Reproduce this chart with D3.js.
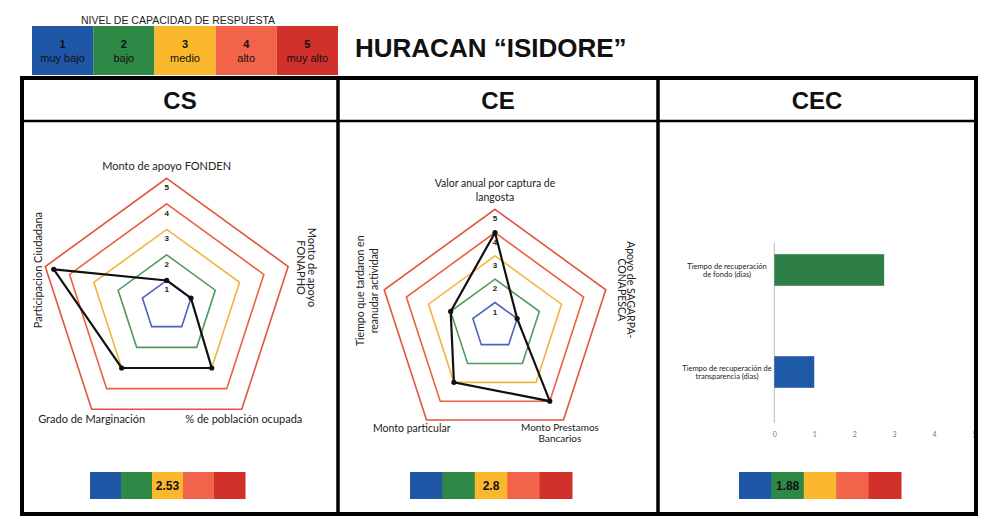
<!DOCTYPE html>
<html>
<head>
<meta charset="utf-8">
<script src="https://cdn.jsdelivr.net/npm/d3@7"></script>
<style>
  body { margin: 0; background: #fff; }
  svg { display: block; }
</style>
</head>
<body>
<div id="chart"></div>
<script>
// Nivel de capacidad de respuesta - Huracan Isidore

// data
var levels = [1, 2, 3, 4, 5];
var levelNames = ["muy bajo", "bajo", "medio", "alto", "muy alto"];
var panelNames = ["CS", "CE", "CEC"];
var panelScores = [2.53, 2.8, 1.88];

var csAxes = ["Monto de apoyo FONDEN", "Monto de apoyo FONAPHO", "% de población ocupada",
  "Grado de Marginación", "Participacion Ciudadana"];
var csValues = [1, 1, 3, 3, 4.65];

var ceAxes = ["Valor anual por captura de langosta", "Apoyo de SAGARPA-CONAPESCA",
  "Monto Prestamos Bancarios", "Monto particular", "Tiempo que tardaron en reanudar actividad"];
var ceValues = [4, 1, 4, 3, 2];

var cecCategories = ["Tiempo de recuperación de fondo (dias)", "Tiempo de recuperación de transparencia (dias)"];
var cecValues = [2.75, 1];
var cecTicks = [0, 1, 2, 3, 4, 5];

// colours
var levelColors = ["#1f56a6", "#2e8947", "#fbb82d", "#f26449", "#d2302a"];
var ringColors = ["#4a64bf", "#4f9a5c", "#f3b43a", "#ee5f42", "#e2543c"];
var cecColors = ["#2e7f47", "#1f5aa6"];

var svgWidth = 988, svgHeight = 523;
var svg = d3.select("#chart").append("svg")
  .attr("width", svgWidth)
  .attr("height", svgHeight);

var sans = "'Liberation Sans', Arial, sans-serif";
var narrow = "'Liberation Sans Narrow', 'Liberation Sans', Arial, sans-serif";
var body = "Lato, 'Open Sans', sans-serif";

// ---- legend at the top ----
var legX = d3.scaleBand().domain(levels).range([32, 338]);
svg.append("text")
  .attr("x", 178).attr("y", 24)
  .attr("text-anchor", "middle")
  .style("font-family", sans).style("font-size", "10.5px").style("fill", "#222")
  .text("NIVEL DE CAPACIDAD DE RESPUESTA");

var leg = svg.append("g").selectAll("g").data(levels).enter().append("g");
leg.append("rect")
  .attr("x", function(d) { return legX(d); })
  .attr("y", 26)
  .attr("width", legX.bandwidth())
  .attr("height", 49)
  .style("fill", function(d, i) { return levelColors[i]; });
leg.append("text")
  .attr("x", function(d) { return legX(d) + legX.bandwidth() / 2; })
  .attr("y", 48)
  .attr("text-anchor", "middle")
  .style("font-family", sans).style("font-size", "11px").style("font-weight", "bold").style("fill", "#111")
  .text(function(d) { return d; });
leg.append("text")
  .attr("x", function(d) { return legX(d) + legX.bandwidth() / 2; })
  .attr("y", 62)
  .attr("text-anchor", "middle")
  .style("font-family", sans).style("font-size", "11px").style("fill", "#111")
  .text(function(d, i) { return levelNames[i]; });

svg.append("text")
  .attr("x", 355).attr("y", 57)
  .style("font-family", sans).style("font-size", "26px").style("font-weight", "bold").style("fill", "#111")
  .text("HURACAN \u201cISIDORE\u201d");

// ---- table headers ----
var colEdges = [22, 338, 658, 976];
panelNames.forEach(function(name, i) {
  svg.append("text")
    .attr("x", (colEdges[i] + colEdges[i + 1]) / 2)
    .attr("y", 109)
    .attr("text-anchor", "middle")
    .style("font-family", narrow).style("font-size", "24px").style("font-weight", "bold").style("fill", "#111")
    .text(name);
});

// ---- radar charts ----
function drawRadar(cx, cy, R, axes, values, labelLayout) {
  var g = svg.append("g").attr("transform", "translate(" + cx + "," + cy + ")");
  var r = d3.scaleLinear().domain([0, 5]).range([0, R]);
  var ang = function(i) { return i * 2 * Math.PI / axes.length; };

  var ring = d3.lineRadial()
    .angle(function(d, i) { return ang(i); })
    .radius(function(d) { return r(d); })
    .curve(d3.curveLinearClosed);

  g.selectAll(".ring").data(levels).enter().append("path")
    .attr("class", "ring")
    .attr("d", function(lv) { return ring(axes.map(function() { return lv; })); })
    .style("fill", "none")
    .style("stroke", function(d, i) { return ringColors[i]; })
    .style("stroke-width", 1.6);

  // level numbers on the top axis
  g.selectAll(".lvl").data(levels).enter().append("text")
    .attr("x", 0)
    .attr("y", function(d) { return -r(d) + 12; })
    .attr("text-anchor", "middle")
    .style("font-family", sans).style("font-size", "8px").style("font-weight", "bold").style("fill", "#222")
    .text(function(d) { return d; });

  var px = function(d, i) { return r(d) * Math.sin(ang(i)); };
  var py = function(d, i) { return -r(d) * Math.cos(ang(i)); };

  g.append("path")
    .attr("d", ring(values))
    .style("fill", "none")
    .style("stroke", "#111")
    .style("stroke-width", 2.2);
  g.selectAll(".pt").data(values).enter().append("circle")
    .attr("cx", px).attr("cy", py).attr("r", 2.6)
    .style("fill", "#111");

  // axis labels
  axes.forEach(function(a, i) {
    var L = labelLayout[i];
    var vx = px(5, i), vy = py(5, i);
    var t = g.append("text")
      .attr("transform", "translate(" + (vx + L.dx) + "," + (vy + L.dy) + ") rotate(" + L.rot + ")")
      .attr("text-anchor", "middle")
      .style("font-family", body).style("font-size", L.size + "px").style("fill", "#222");
    L.lines.forEach(function(line, k) {
      t.append("tspan").attr("x", 0).attr("y", k * L.lh).text(line);
    });
  });
}

drawRadar(166.7, 306, 127.7, csAxes, csValues, [
  { lines: [csAxes[0]], dx: 0, dy: -8, rot: 0, size: 11, lh: 12 },
  { lines: ["Monto de apoyo", "FONAPHO"], dx: 20, dy: 1, rot: 90, size: 11, lh: 11.5 },
  { lines: [csAxes[2]], dx: 2, dy: 14, rot: 0, size: 11, lh: 12 },
  { lines: [csAxes[3]], dx: 0, dy: 14, rot: 0, size: 11, lh: 12 },
  { lines: [csAxes[4]], dx: -3, dy: 3.5, rot: -90, size: 11, lh: 12 }
]);

drawRadar(495, 325.8, 116.5, ceAxes, ceValues, [
  { lines: ["Valor anual por captura de", "langosta"], dx: 0, dy: -22, rot: 0, size: 10.5, lh: 14 },
  { lines: ["Apoyo de SAGARPA-", "CONAPESCA"], dx: 21.5, dy: 0, rot: 90, size: 10.5, lh: 9 },
  { lines: ["Monto Prestamos", "Bancarios"], dx: -3.5, dy: 10.5, rot: 0, size: 10, lh: 11 },
  { lines: [ceAxes[3]], dx: -14.8, dy: 11.8, rot: 0, size: 10.5, lh: 12 },
  { lines: ["Tiempo que tardaron en", "reanudar actividad"], dx: -20.5, dy: 1, rot: -90, size: 10.5, lh: 14 }
]);

// ---- CEC bar chart ----
var xBar = d3.scaleLinear().domain([0, 5]).range([774.3, 974]);
var yBar = d3.scaleBand().domain(cecCategories).range([219, 423])
  .paddingInner(0.69).paddingOuter(0.345);

svg.append("line")
  .attr("x1", xBar(0)).attr("x2", xBar(0))
  .attr("y1", 242).attr("y2", 423)
  .style("stroke", "#bbb").style("stroke-width", 1);

svg.selectAll(".bar").data(cecValues).enter().append("rect")
  .attr("x", xBar(0))
  .attr("y", function(d, i) { return yBar(cecCategories[i]); })
  .attr("width", function(d) { return xBar(d) - xBar(0); })
  .attr("height", yBar.bandwidth())
  .style("fill", function(d, i) { return cecColors[i]; });

var xAxis = svg.append("g")
  .attr("transform", "translate(0,432)")
  .call(d3.axisBottom(xBar).tickValues(cecTicks).tickFormat(d3.format("d")).tickSize(0).tickPadding(0));
xAxis.select(".domain").remove();
xAxis.selectAll("text")
  .style("font-family", body).style("font-size", "7px").style("fill", "#777");

var cecLabelLines = [["Tiempo de recuperación", "de fondo (dias)"], ["Tiempo de recuperación de", "transparencia (dias)"]];
cecCategories.forEach(function(c, i) {
  var t = svg.append("text")
    .attr("text-anchor", "middle")
    .style("font-family", body).style("font-size", "7.5px").style("fill", "#222");
  var yc = yBar(c) + yBar.bandwidth() / 2;
  cecLabelLines[i].forEach(function(line, k) {
    t.append("tspan").attr("x", 727).attr("y", yc + k * 8.5 - 1.5).text(line);
  });
});

// ---- score strips at the bottom ----
var stripRanges = [[90, 245], [410, 572], [739, 901]];
panelScores.forEach(function(score, p) {
  var sx = d3.scaleBand().domain(levels).range(stripRanges[p]);
  var g = svg.append("g");
  g.selectAll("rect").data(levels).enter().append("rect")
    .attr("x", function(d) { return sx(d); })
    .attr("y", 472)
    .attr("width", sx.bandwidth() + 0.5)
    .attr("height", 27)
    .style("fill", function(d, i) { return levelColors[i]; });
  g.append("text")
    .attr("x", sx(Math.round(score)) + sx.bandwidth() / 2)
    .attr("y", 489.5)
    .attr("text-anchor", "middle")
    .style("font-family", narrow).style("font-size", "12px").style("font-weight", "bold").style("fill", "#111")
    .text(score);
});

// ---- table frame ----
var frame = svg.append("g").style("fill", "none").style("stroke", "#000");
frame.append("rect")
  .attr("x", colEdges[0]).attr("y", 78)
  .attr("width", colEdges[3] - colEdges[0]).attr("height", 514 - 78)
  .style("stroke-width", 4);
frame.append("line")
  .attr("x1", colEdges[0]).attr("x2", colEdges[3])
  .attr("y1", 121).attr("y2", 121)
  .style("stroke-width", 2.5);
[colEdges[1], colEdges[2]].forEach(function(x) {
  frame.append("line")
    .attr("x1", x).attr("x2", x)
    .attr("y1", 78).attr("y2", 514)
    .style("stroke-width", 3.5);
});
</script>
</body>
</html>
